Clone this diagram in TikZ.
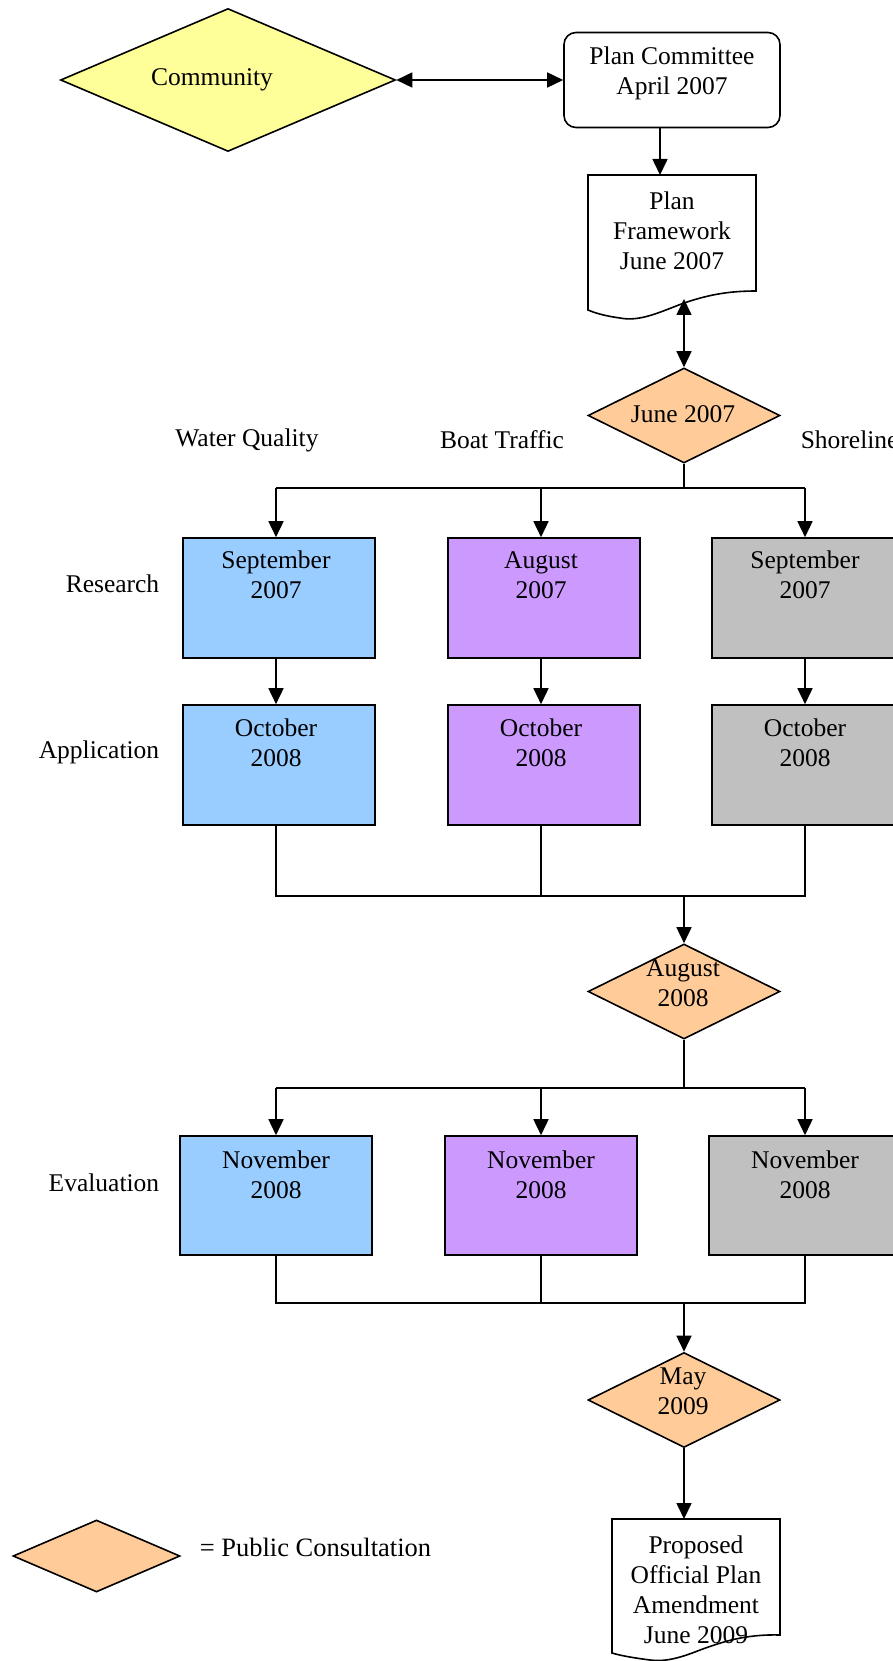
\documentclass[tikz,border=0pt]{standalone}
\usepackage{fontspec}
\setmainfont{Liberation Serif}
\usetikzlibrary{shapes.geometric,arrows.meta}
\definecolor{cyel}{HTML}{FFFF99}
\definecolor{corg}{HTML}{FFCC99}
\definecolor{cblu}{HTML}{99CCFF}
\definecolor{cpur}{HTML}{CC99FF}
\definecolor{cgry}{HTML}{C0C0C0}
\begin{document}
\begin{tikzpicture}[x=1pt,y=-1pt, line width=1.6pt,
  txt/.style={font=\fontsize{25.5}{30}\selectfont, align=center, inner sep=0pt},
  box/.style={draw, minimum width=192pt, minimum height=120pt, inner sep=0pt},
  dia/.style={diamond, draw, fill=corg, minimum width=192pt, minimum height=95pt, inner sep=0pt},
  arr/.style={-{Triangle[width=15pt,length=16pt]}},
  darr/.style={{Triangle[width=15pt,length=16pt]}-{Triangle[width=15pt,length=16pt]}},
]
\useasboundingbox (0,0) rectangle (893,1661);
% top part
\node[diamond, draw, fill=cyel, minimum width=335pt, minimum height=143pt, inner sep=0pt] (community) at (228,80) {};
\node[txt] (community-t) at (212,80) {Community};
\node[draw, rounded corners=12pt, minimum width=216pt, minimum height=95pt, inner sep=0pt] (committee) at (672,80) {};
\node[txt] (committee-t) at (672,73) {Plan Committee\\April 2007};
\draw[darr] (community.east) -- (committee.west);
% plan framework document
\draw[fill=white] (588,175) -- (756,175) -- (756,291)
  .. controls (725,291) and (705,296) .. (684,303)
  .. controls (660,312) and (640,322) .. (620,318)
  .. controls (605,316) and (595,313) .. (588,310) -- cycle;
\node[txt] (framework) at (672,231) {Plan\\Framework\\June 2007};
\coordinate (framework-top) at (660,175);
\coordinate (framework-bot) at (684,299);
\draw[arr] (committee.south -| framework-top) -- (framework-top);
% June 2007
\node[dia] (june) at (684,415.5) {};
\node[txt] (june-t) at (683,414) {June 2007};
\draw[darr] (june.north) -- (framework-bot);
% column headings and row labels
\node[txt] (wq) at (247,440) {Water Quality};
\node[txt] (bt) at (502,440) {Boat Traffic};
\node[txt, anchor=west] (sh) at (800,440) {Shoreline};
\node[txt, anchor=east] (lr) at (160,584) {Research};
\node[txt, anchor=east] (la) at (160,752) {Application};
\node[txt, anchor=east] (le) at (160,1183) {Evaluation};
% column axes
\coordinate (c1) at (276,0);
\coordinate (c2) at (541,0);
\coordinate (c3) at (805,0);
% research row
\node[box, fill=cblu] (r1) at (279,598) {};
\node[box, fill=cpur] (r2) at (544,598) {};
\node[box, fill=cgry] (r3) at (808,598) {};
\node[txt] (r1-t) at (276,575) {September\\2007};
\node[txt] (r2-t) at (541,575) {August\\2007};
\node[txt] (r3-t) at (805,575) {September\\2007};
% application row
\node[box, fill=cblu] (a1) at (279,765) {};
\node[box, fill=cpur] (a2) at (544,765) {};
\node[box, fill=cgry] (a3) at (808,765) {};
\node[txt] (a1-t) at (276,743) {October\\2008};
\node[txt] (a2-t) at (541,743) {October\\2008};
\node[txt] (a3-t) at (805,743) {October\\2008};
% branch 1
\coordinate (b1) at (684,488);
\draw (june.south) -- (b1);
\draw (c1 |- b1) -- (c3 |- b1);
\draw[arr] (c1 |- b1) -- (c1 |- r1.north);
\draw[arr] (c2 |- b1) -- (c2 |- r2.north);
\draw[arr] (c3 |- b1) -- (c3 |- r3.north);
\draw[arr] (c1 |- r1.south) -- (c1 |- a1.north);
\draw[arr] (c2 |- r2.south) -- (c2 |- a2.north);
\draw[arr] (c3 |- r3.south) -- (c3 |- a3.north);
% merge 1
\coordinate (m1) at (684,896);
\draw (c1 |- a1.south) -- (c1 |- m1) -- (c3 |- m1) -- (c3 |- a3.south);
\draw (c2 |- a2.south) -- (c2 |- m1);
\node[dia] (aug) at (684,991.5) {};
\node[txt] (aug-t) at (683,983) {August\\2008};
\draw[arr] (m1) -- (aug.north);
% evaluation row
\node[box, fill=cblu, minimum height=119pt] (e1) at (276,1195.5) {};
\node[box, fill=cpur, minimum height=119pt] (e2) at (541,1195.5) {};
\node[box, fill=cgry, minimum height=119pt] (e3) at (805,1195.5) {};
\node[txt] (e1-t) at (276,1175) {November\\2008};
\node[txt] (e2-t) at (541,1175) {November\\2008};
\node[txt] (e3-t) at (805,1175) {November\\2008};
\coordinate (b2) at (684,1088);
\draw (aug.south) -- (b2);
\draw (e1.north |- b2) -- (e3.north |- b2);
\foreach \n in {e1,e2,e3} {\draw[arr] (\n.north |- b2) -- (\n.north);}
% merge 2
\coordinate (m2) at (684,1303);
\draw (e1.south) -- (e1.south |- m2) -- (e3.south |- m2) -- (e3.south);
\draw (e2.south) -- (e2.south |- m2);
\node[dia] (may) at (684,1400) {};
\node[txt] (may-t) at (683,1391) {May\\2009};
\draw[arr] (m2) -- (may.north);
% proposed document
\draw[fill=white] (612,1519) -- (780,1519) -- (780,1635)
  .. controls (745,1634) and (722,1642) .. (700,1650)
  .. controls (680,1658) and (665,1662) .. (650,1660)
  .. controls (635,1658) and (622,1656) .. (612,1653) -- cycle;
\coordinate (prop-top) at (684,1519);
\node[txt] (proposed) at (696,1590) {Proposed\\Official Plan\\Amendment\\June 2009};
\draw[arr] (may.south) -- (prop-top);
% legend
\node[dia, minimum width=167pt, minimum height=72pt] (legend) at (96.5,1556) {};
\node[font=\fontsize{26.5}{30}\selectfont, inner sep=0pt, anchor=west] (legend-t) at (199,1547) {= Public Consultation};
\end{tikzpicture}
\end{document}
